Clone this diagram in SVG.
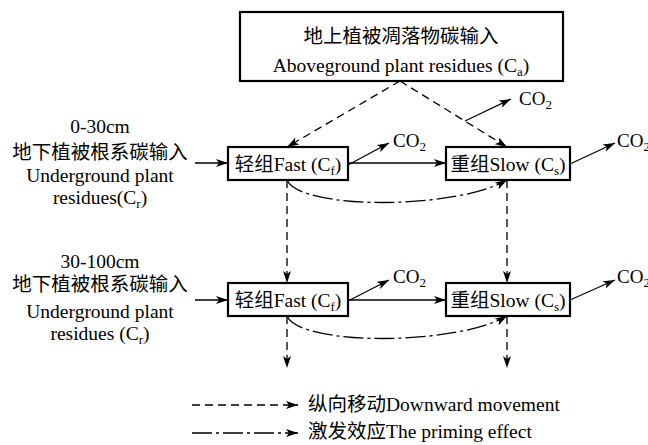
<svg xmlns="http://www.w3.org/2000/svg" width="648" height="445" viewBox="0 0 648 445">
<style>
text{font-family:"Liberation Serif","Noto Sans CJK SC",serif;font-size:19.5px;fill:#000}
.c{text-anchor:middle}
.co{font-size:19px}
.box{fill:#fff;stroke:#000;stroke-width:2.2}
.ln{fill:none;stroke:#000;stroke-width:1.3}
.da{stroke-dasharray:8 5}
.dd{stroke-dasharray:20 4 3 4}
</style>
<defs>
<marker id="ah" viewBox="0 0 12 8" refX="12" refY="4" markerWidth="12" markerHeight="8" markerUnits="userSpaceOnUse" orient="auto">
<path d="M0,0 L12,4 L0,8 L3,4 z" fill="#000"/>
</marker>
</defs>

<g id="connectors">
<path class="ln da" d="M400,81 L287,147" marker-end="url(#ah)"/>
<path class="ln da" d="M400,81 L507,147" marker-end="url(#ah)"/>
<path class="ln" d="M465,121 L511,99" marker-end="url(#ah)"/>
<path class="ln" d="M195,163 L228,163" marker-end="url(#ah)"/>
<path class="ln" d="M348,163 L446,163" marker-end="url(#ah)"/>
<path class="ln" d="M348,165 L389,143" marker-end="url(#ah)"/>
<path class="ln" d="M570,164 L615,143" marker-end="url(#ah)"/>
<path class="ln dd" d="M287,180 C300,210 455,210 507,180" marker-end="url(#ah)"/>
<path class="ln da" d="M287,180 L287,283" marker-end="url(#ah)"/>
<path class="ln da" d="M507,180 L507,283" marker-end="url(#ah)"/>
<path class="ln" d="M195,300 L228,300" marker-end="url(#ah)"/>
<path class="ln" d="M348,300 L446,300" marker-end="url(#ah)"/>
<path class="ln" d="M348,301 L389,280" marker-end="url(#ah)"/>
<path class="ln" d="M570,300 L615,280" marker-end="url(#ah)"/>
<path class="ln dd" d="M287,316 C300,346 455,346 507,316" marker-end="url(#ah)"/>
<path class="ln da" d="M287,316 L287,368" marker-end="url(#ah)"/>
<path class="ln da" d="M507,316 L507,368" marker-end="url(#ah)"/>
</g>

<g id="above">
<rect class="box" x="240" y="12" width="323" height="69"/>
<text class="c" x="401" y="43">地上植被凋落物碳输入</text>
<text class="c" x="401" y="72">Aboveground plant residues (C<tspan font-size="13" dy="4">a</tspan><tspan dy="-4">)</tspan></text>
</g>

<g id="under1">
<text class="c" x="100" y="133">0-30cm</text>
<text class="c" x="100" y="159">地下植被根系碳输入</text>
<text class="c" x="100" y="182">Underground plant</text>
<text class="c" x="100" y="204">residues(C<tspan font-size="13" dy="4">r</tspan><tspan dy="-4">)</tspan></text>
</g>

<g id="under2">
<text class="c" x="100" y="268">30-100cm</text>
<text class="c" x="100" y="291">地下植被根系碳输入</text>
<text class="c" x="100" y="318">Underground plant</text>
<text class="c" x="100" y="340">residues (C<tspan font-size="13" dy="4">r</tspan><tspan dy="-4">)</tspan></text>
</g>

<g id="fast1">
<rect class="box" x="228" y="147" width="120" height="33"/>
<text class="c" x="288" y="171">轻组Fast (C<tspan font-size="13" dy="4">f</tspan><tspan dy="-4">)</tspan></text>
</g>
<g id="slow1">
<rect class="box" x="446" y="147" width="124" height="33"/>
<text class="c" x="508" y="171">重组Slow (C<tspan font-size="13" dy="4">s</tspan><tspan dy="-4">)</tspan></text>
</g>
<g id="fast2">
<rect class="box" x="228" y="283" width="120" height="33"/>
<text class="c" x="288" y="307">轻组Fast (C<tspan font-size="13" dy="4">f</tspan><tspan dy="-4">)</tspan></text>
</g>
<g id="slow2">
<rect class="box" x="446" y="283" width="124" height="33"/>
<text class="c" x="508" y="307">重组Slow (C<tspan font-size="13" dy="4">s</tspan><tspan dy="-4">)</tspan></text>
</g>

<g id="co2">
<text class="co" x="519" y="105">CO<tspan font-size="13" dy="4">2</tspan></text>
<text class="co" x="393" y="147">CO<tspan font-size="13" dy="4">2</tspan></text>
<text class="co" x="617" y="147">CO<tspan font-size="13" dy="4">2</tspan></text>
<text class="co" x="393" y="283">CO<tspan font-size="13" dy="4">2</tspan></text>
<text class="co" x="617" y="283">CO<tspan font-size="13" dy="4">2</tspan></text>
</g>

<g id="legend">
<path class="ln da" d="M192,405 L298,405" marker-end="url(#ah)"/>
<text x="308" y="411">纵向移动Downward movement</text>
<path class="ln dd" d="M192,433 L298,433" marker-end="url(#ah)"/>
<text x="308" y="438">激发效应The priming effect</text>
</g>
</svg>
